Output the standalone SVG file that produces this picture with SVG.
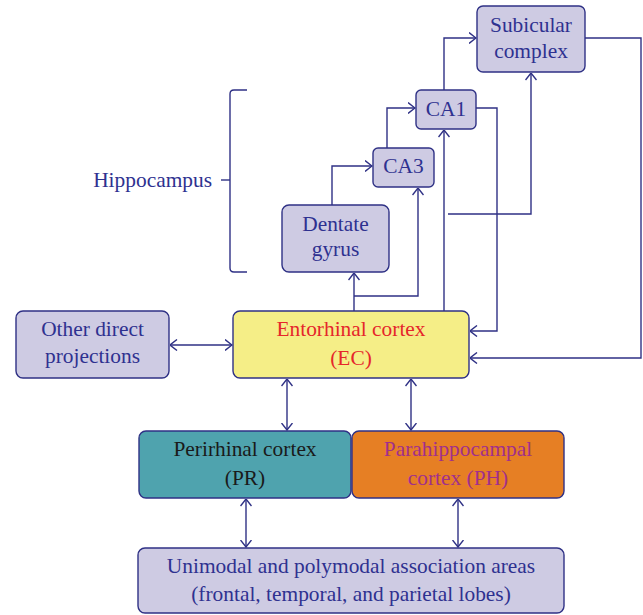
<svg xmlns="http://www.w3.org/2000/svg" width="643" height="615" viewBox="0 0 643 615">
<style>
.box{fill:#cecbe3;stroke:#2f3185;stroke-width:1.4}
text{font-family:'Liberation Serif','Times New Roman','DejaVu Serif',serif;font-size:21.4px;text-anchor:middle;fill:#2e3190}
.c{fill:none;stroke:#2f3185;stroke-width:1.4}
</style>
<defs>
<marker id="ah" viewBox="0 0 8 12" refX="7.5" refY="6" markerWidth="8" markerHeight="12" markerUnits="userSpaceOnUse" orient="auto-start-reverse">
<path d="M0.5,0.5 L7.5,6 L0.5,11.5" fill="none" stroke="#2f3185" stroke-width="1.4"/>
</marker>
</defs>
<rect width="643" height="615" fill="#ffffff"/>
<g id="connectors">
<path class="c" d="M585,38 H641 V358 H470" marker-end="url(#ah)"/>
<path class="c" d="M444,90 V38 H476" marker-end="url(#ah)"/>
<path class="c" d="M476,108 H497 V331 H470" marker-end="url(#ah)"/>
<path class="c" d="M387,148 V108 H415" marker-end="url(#ah)"/>
<path class="c" d="M332,205 V166 H372" marker-end="url(#ah)"/>
<path class="c" d="M354,311 V273" marker-end="url(#ah)"/>
<path class="c" d="M354,296 H418 V188" marker-end="url(#ah)"/>
<path class="c" d="M444,311 V130" marker-end="url(#ah)"/>
<path class="c" d="M448,214 H531 V73" marker-end="url(#ah)"/>
<path class="c" d="M170,345 H232" marker-start="url(#ah)" marker-end="url(#ah)"/>
<path class="c" d="M287,379 V430" marker-start="url(#ah)" marker-end="url(#ah)"/>
<path class="c" d="M411,379 V430" marker-start="url(#ah)" marker-end="url(#ah)"/>
<path class="c" d="M246,499 V547" marker-start="url(#ah)" marker-end="url(#ah)"/>
<path class="c" d="M458,499 V547" marker-start="url(#ah)" marker-end="url(#ah)"/>
</g>
<g id="hippocampus">
<path class="c" d="M247,90 H234 Q230,90 230,94 V268 Q230,272 234,272 H247"/>
<path class="c" d="M221,180 H230"/>
<text x="212" y="187" style="text-anchor:end">Hippocampus</text>
</g>
<g id="subicular">
<rect class="box" x="477" y="6" width="108" height="66" rx="6"/>
<text x="531" y="32">Subicular</text>
<text x="531" y="58">complex</text>
</g>
<g id="ca1">
<rect class="box" x="416" y="90" width="60" height="39" rx="5"/>
<text x="446" y="116">CA1</text>
</g>
<g id="ca3">
<rect class="box" x="373" y="148" width="61" height="39" rx="5"/>
<text x="403.5" y="173">CA3</text>
</g>
<g id="dentate">
<rect class="box" x="282" y="205" width="107" height="67" rx="7"/>
<text x="335.5" y="231">Dentate</text>
<text x="335.5" y="256">gyrus</text>
</g>
<g id="ec">
<rect x="233" y="311" width="236" height="67" rx="7" fill="#f5ee87" stroke="#2f3185" stroke-width="1.4"/>
<text x="351" y="336" style="fill:#e5262b">Entorhinal cortex</text>
<text x="351" y="365" style="fill:#e5262b">(EC)</text>
</g>
<g id="other">
<rect class="box" x="16" y="311" width="153" height="67" rx="7"/>
<text x="92.5" y="336">Other direct</text>
<text x="92.5" y="363">projections</text>
</g>
<g id="pr">
<rect x="139" y="431" width="212" height="67" rx="7" fill="#4fa3ae" stroke="#2f3185" stroke-width="1.4"/>
<text x="245" y="456" style="fill:#1a1a1a">Perirhinal cortex</text>
<text x="245" y="485" style="fill:#1a1a1a">(PR)</text>
</g>
<g id="ph">
<rect x="352" y="431" width="212" height="67" rx="7" fill="#e67f24" stroke="#2f3185" stroke-width="1.4"/>
<text x="458" y="456" style="fill:#a12f8c">Parahippocampal</text>
<text x="458" y="485" style="fill:#a12f8c">cortex (PH)</text>
</g>
<g id="association">
<rect class="box" x="138" y="548" width="426" height="65" rx="7"/>
<text x="351" y="573">Unimodal and polymodal association areas</text>
<text x="351" y="601">(frontal, temporal, and parietal lobes)</text>
</g>
</svg>
